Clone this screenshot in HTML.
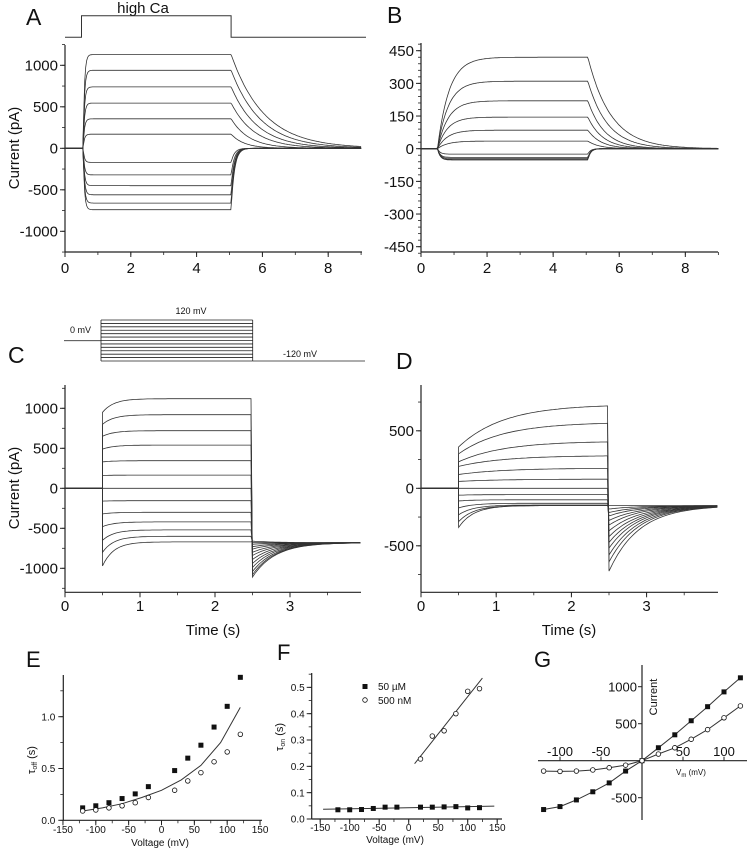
<!DOCTYPE html>
<html><head><meta charset="utf-8">
<style>
html,body{margin:0;padding:0;background:#fff;}
svg{display:block;font-family:"Liberation Sans",Arial,sans-serif;}
</style></head>
<body>
<svg id="fig" width="753" height="853" viewBox="0 0 753 853" xmlns="http://www.w3.org/2000/svg">
<rect width="753" height="853" fill="#fff"/>
<g fill="#111">
<text x="26" y="25" font-size="23">A</text>
<text x="387" y="23" font-size="23">B</text>
<text x="8" y="363" font-size="23">C</text>
<text x="396" y="369" font-size="23">D</text>
<text x="26" y="667" font-size="22">E</text>
<text x="277" y="660" font-size="22">F</text>
<text x="534" y="667" font-size="22">G</text>
<text x="143" y="13" font-size="15" text-anchor="middle">high Ca</text>
<text transform="translate(19,148) rotate(-90)" font-size="15" text-anchor="middle">Current (pA)</text>
<text transform="translate(19,488) rotate(-90)" font-size="15" text-anchor="middle">Current (pA)</text>
<text x="213" y="635" font-size="15" text-anchor="middle">Time (s)</text>
<text x="569" y="635" font-size="15" text-anchor="middle">Time (s)</text>
<text x="191" y="314" font-size="9" text-anchor="middle">120 mV</text>
<text x="70" y="333" font-size="9">0 mV</text>
<text x="283" y="357" font-size="9">-120 mV</text>
<text x="160" y="846" font-size="10" text-anchor="middle">Voltage (mV)</text>
<text x="395" y="843" font-size="10" text-anchor="middle">Voltage (mV)</text>
<text transform="translate(35,760) rotate(-90)" font-size="11" text-anchor="middle">τ<tspan font-size="7" dy="2">off</tspan><tspan dy="-2"> (s)</tspan></text>
<text transform="translate(283,737) rotate(-90)" font-size="11" text-anchor="middle">τ<tspan font-size="7" dy="2">on</tspan><tspan dy="-2"> (s)</tspan></text>
<text x="378" y="690" font-size="10">50 µM</text>
<text x="378" y="704" font-size="10">500 nM</text>
<text transform="translate(657,697) rotate(-90)" font-size="11" text-anchor="middle">Current</text>
<text x="676" y="775" font-size="8">V<tspan font-size="6" dy="2">m</tspan><tspan dy="-2"> (mV)</tspan></text>
</g>
<rect x="362.5" y="684" width="5" height="5" fill="#111"/>
<circle cx="365" cy="700" r="2.3" fill="#fff" stroke="#111" stroke-width="0.8"/>
</svg>
<script>
// ---------- DATA ----------
const aLevels = [1130, 940, 740, 545, 355, 170, -170, -320, -450, -560, -660, -740];
const aOffTau = [1.0, 0.9, 0.8, 0.7, 0.55, 0.4, 0.1, 0.1, 0.1, 0.1, 0.1, 0.1];
const bLevels = [420, 310, 220, 145, 85, 35, -25, -40, -45, -50, -50, -52];
const bOnTau = [0.35, 0.33, 0.32, 0.3, 0.3, 0.3, 0.08, 0.08, 0.08, 0.08, 0.08, 0.08];
const bOffTau = [0.7, 0.6, 0.5, 0.45, 0.4, 0.35, 0.08, 0.08, 0.08, 0.08, 0.08, 0.08];
const cInit = [950, 800, 650, 490, 330, 160, 0, -160, -320, -480, -650, -800, -970];
const cSteady = [1120, 920, 720, 540, 345, 165, 0, -155, -300, -420, -520, -600, -670];
const cTail = [-1110, -1080, -1040, -990, -940, -890, -840, -800, -760, -730, -700, -680, -660];
const cTailEnd = -680;
const dInit = [360, 300, 230, 190, 120, 60, 0, -60, -110, -170, -230, -290, -340];
const dSteady = [730, 575, 410, 285, 175, 80, 0, -55, -100, -130, -145, -150, -150];
const dTail = [-720, -640, -580, -520, -470, -420, -370, -320, -280, -240, -210, -180, -150];
const dTailEnd = -150;
const eVolt = [-120, -100, -80, -60, -40, -20, 20, 40, 60, 80, 100, 120];
const eSquares = [0.12, 0.14, 0.17, 0.21, 0.255, 0.325, 0.48, 0.6, 0.725, 0.9, 1.1, 1.38];
const eCircles = [0.09, 0.10, 0.12, 0.14, 0.17, 0.22, 0.29, 0.38, 0.46, 0.565, 0.66, 0.83];
const eFitV = [-120, -90, -60, -30, 0, 30, 60, 90, 120];
const eFitT = [0.09, 0.12, 0.16, 0.22, 0.29, 0.39, 0.53, 0.75, 1.09];
const fVoltSq = [-120, -100, -80, -60, -40, -20, 20, 40, 60, 80, 100, 120];
const fSquares = [0.035, 0.035, 0.036, 0.04, 0.045, 0.045, 0.045, 0.045, 0.046, 0.047, 0.042, 0.043];
const fVoltCi = [20, 40, 60, 80, 100, 120];
const fCircles = [0.228, 0.315, 0.335, 0.40, 0.485, 0.495];
const fFitSqV = [-145, 145], fFitSqT = [0.037, 0.049];
const fFitCiV = [10, 125], fFitCiT = [0.21, 0.535];
const gVolt = [-120, -100, -80, -60, -40, -20, 0, 20, 40, 60, 80, 100, 120];
const gSquares = [-660, -620, -530, -420, -300, -140, 0, 175, 350, 540, 730, 930, 1120];
const gCircles = [-140, -145, -140, -125, -95, -60, 0, 90, 175, 290, 420, 580, 740];
const aYTicks = [-1000, -500, 0, 500, 1000];
const bYTicks = [-450, -300, -150, 0, 150, 300, 450];
const abXTicks = [0, 2, 4, 6, 8];
const cYTicks = [-1000, -500, 0, 500, 1000];
const dYTicks = [-500, 0, 500];
const cdXTicks = [0, 1, 2, 3];
const efXTicks = [-150, -100, -50, 0, 50, 100, 150];
const eYTicks = [0, 0.5, 1.0];
const fYTicks = [0, 0.1, 0.2, 0.3, 0.4, 0.5];
const gXTicks = [-100, -50, 50, 100];
const gYTicks = [-500, 500, 1000];

// ---------- SCALES ----------
const xA = t => 65 + t * 32.9, yA = v => 148.3 - v * 0.083;
const xB = t => 421 + t * 33.04, yB = v => 148.7 - v * 98 / 450;
const xC = t => 65 + t * 75, yC = v => 488.3 - v * 0.08;
const xD = t => 421 + t * 75.2, yD = v => 488.3 - v * 0.115;
const xE = v => 161.5 + v * 0.657, yE = s => 820.3 - s * 103.6;
const xF = v => 408.7 + v * 0.59, yF = s => 819 - s * 263.3;
const xG = v => 642 + v * 0.82, yG = i => 760.7 - i * 0.074;

const NS = 'http://www.w3.org/2000/svg';
const svg = document.getElementById('fig');
function mk(tag, attrs) {
  const e = document.createElementNS(NS, tag);
  for (const k in attrs) e.setAttribute(k, attrs[k]);
  svg.appendChild(e);
  return e;
}
function ln(x1, y1, x2, y2, w) {
  return mk('line', {x1: x1, y1: y1, x2: x2, y2: y2, stroke: '#222', 'stroke-width': w || 1});
}
function tx(x, y, s, fs, anchor) {
  const e = mk('text', {x: x, y: y, 'font-size': fs, 'text-anchor': anchor || 'middle', fill: '#111'});
  e.textContent = s;
  return e;
}
function pl(pts, w) {
  return mk('polyline', {points: pts.map(p => p[0].toFixed(1) + ',' + p[1].toFixed(1)).join(' '), fill: 'none', stroke: '#333', 'stroke-width': w || 0.8});
}
function fmt(v, d) { return d ? v.toFixed(d) : String(v); }

function yAxis(xa, yTop, yBot, ticks, fy, minorStep, lo, hi, fs, gap, dec) {
  const a = ln(xa, yTop, xa, yBot, 1.2);
  
  
  for (const v of ticks) {
    const t = ln(xa - 5, fy(v), xa, fy(v), 1);
    
    
    const l = tx(xa - gap, fy(v) + fs * 0.36, fmt(v, dec), fs, 'end');
    
    
  }
  if (minorStep) for (let v = lo; v <= hi + 1e-9; v += minorStep) {
    const m = ln(xa - 3, fy(v), xa, fy(v), 0.8);
    
    
  }
}
function xAxis(ya, xL, xR, ticks, fx, minorStep, lo, hi, fs, base) {
  const a = ln(xL, ya, xR, ya, 1.2);
  
  
  for (const v of ticks) {
    const t = ln(fx(v), ya, fx(v), ya + 5, 1);
    
    
    const l = tx(fx(v), base, String(v), fs, 'middle');
    
    
  }
  if (minorStep) for (let v = lo; v <= hi + 1e-9; v += minorStep) {
    const m = ln(fx(v), ya, fx(v), ya + 3, 0.8);
    
    
  }
}

// ---------- PANEL A ----------
const stimA = pl([[xA(0), 37.3], [xA(0.5), 37.3], [xA(0.5), 15.7], [xA(5.05), 15.7], [xA(5.05), 37.3], [366, 37.3]], 1);


yAxis(65, 45, 252, aYTicks, yA, 250, -1250, 1250, 15, 7, 0);
xAxis(252, 65, 362, abXTicks, xA, 1, 0, 9, 15, 273);
aLevels.forEach((L, i) => {
  const pts = [];
  for (let t = 0; t <= 9.0001; t += 0.03) {
    let v;
    if (t < 0.55) v = 0;
    else if (t < 5.05) v = L * (1 - Math.exp(-(t - 0.55) / 0.04));
    else v = L * Math.exp(-(t - 5.05) / aOffTau[i]);
    pts.push([xA(t), yA(v)]);
  }
  const p = pl(pts);
  
  
});

// ---------- PANEL B ----------
yAxis(421, 43, 252, bYTicks, yB, 30, -480, 480, 15, 7, 0);
xAxis(252, 421, 718, abXTicks, xB, 1, 0, 9, 15, 273);
bLevels.forEach((L, i) => {
  const pts = [];
  for (let t = 0; t <= 9.0001; t += 0.03) {
    let v;
    if (t < 0.5) v = 0;
    else if (t < 5.05) v = L * (1 - Math.exp(-(t - 0.5) / bOnTau[i]));
    else v = L * (1 - Math.exp(-4.55 / bOnTau[i])) * Math.exp(-(t - 5.05) / bOffTau[i]);
    pts.push([xB(t), yB(v)]);
  }
  const p = pl(pts);
  
  
});

// ---------- STIMULUS C ----------
const s0 = pl([[64, 340.7], [101, 340.7]], 0.8);


for (let k = 0; k < 13; k++) {
  const y = 320 + k * (41 / 12);
  const s = ln(101, y, 252.7, y, 0.8);
  
  
}
const sv1 = ln(101, 320, 101, 361, 0.8);


const sv2 = ln(252.7, 320, 252.7, 361, 0.8);


const sTail = ln(252.7, 361, 365, 361, 0.8);



// ---------- PANEL C ----------
yAxis(65, 385, 592.3, cYTicks, yC, 250, -1250, 1250, 15, 7, 0);
xAxis(592.3, 65, 361, cdXTicks, xC, 0.5, 0, 3.5, 15, 611);
cInit.forEach((I, i) => {
  const pts = [[xC(0), yC(0)], [xC(0.5), yC(0)]];
  for (let t = 0.5; t <= 2.5001; t += 0.03) {
    const v = cSteady[i] + (I - cSteady[i]) * Math.exp(-(t - 0.5) / 0.15);
    pts.push([xC(t), yC(v)]);
  }
  for (let t = 2.5; t <= 3.95; t += 0.03) {
    const v = cTailEnd + (cTail[i] - cTailEnd) * Math.exp(-(t - 2.5) / 0.3);
    pts.push([xC(t), yC(v)]);
  }
  const p = pl(pts);
  
  
});

// ---------- PANEL D ----------
yAxis(421, 385, 592.3, dYTicks, yD, 250, -750, 750, 15, 7, 0);
xAxis(592.3, 421, 718, cdXTicks, xD, 0.5, 0, 3.5, 15, 611);
dInit.forEach((I, i) => {
  const pts = [[xD(0), yD(0)], [xD(0.5), yD(0)]];
  const tau = i < 7 ? 0.6 : 0.2;
  for (let t = 0.5; t <= 2.5001; t += 0.03) {
    const v = dSteady[i] + (I - dSteady[i]) * Math.exp(-(t - 0.5) / tau);
    pts.push([xD(t), yD(v)]);
  }
  for (let t = 2.5; t <= 3.95; t += 0.03) {
    const v = dTailEnd + (dTail[i] - dTailEnd) * Math.exp(-(t - 2.5) / 0.4);
    pts.push([xD(t), yD(v)]);
  }
  const p = pl(pts);
  
  
});

// ---------- PANEL E ----------
yAxis(63.3, 675, 820.3, eYTicks, yE, 0.25, 0, 1.25, 10, 8, 1);
xAxis(820.3, 63.3, 262, efXTicks, xE, 25, -150, 150, 10, 833);
const eFit = pl(eFitV.map((v, k) => [xE(v), yE(eFitT[k])]), 1);


eVolt.forEach((v, k) => {
  const s = mk('rect', {x: xE(v) - 2.5, y: yE(eSquares[k]) - 2.5, width: 5, height: 5, fill: '#111'});
  
  
  const c = mk('circle', {cx: xE(v), cy: yE(eCircles[k]), r: 2.3, fill: '#fff', stroke: '#111', 'stroke-width': 0.8});
  
  
});

// ---------- PANEL F ----------
yAxis(311.7, 673, 819, fYTicks, yF, 0.05, 0, 0.55, 10, 7, 1);
xAxis(819, 311.7, 502, efXTicks, xF, 25, -150, 150, 10, 831);
const fl1 = pl(fFitSqV.map((v, k) => [xF(v), yF(fFitSqT[k])]), 1);


const fl2 = pl(fFitCiV.map((v, k) => [xF(v), yF(fFitCiT[k])]), 1);


fVoltSq.forEach((v, k) => {
  const s = mk('rect', {x: xF(v) - 2.5, y: yF(fSquares[k]) - 2.5, width: 5, height: 5, fill: '#111'});
  
  
});
fVoltCi.forEach((v, k) => {
  const c = mk('circle', {cx: xF(v), cy: yF(fCircles[k]), r: 2.3, fill: '#fff', stroke: '#111', 'stroke-width': 0.8});
  
  
});

// ---------- PANEL G ----------
const gx = ln(538, yG(0), 747, yG(0), 1.2);


const gy = ln(xG(0), 665, xG(0), 820, 1.2);


gXTicks.forEach(v => {
  const t = ln(xG(v), yG(0) - 4, xG(v), yG(0), 1);
  
  
  const l = tx(xG(v), 756, String(v), 13, 'middle');
  
  
});
gYTicks.forEach(v => {
  const t = ln(xG(0) - 4, yG(v), xG(0), yG(v), 1);
  
  
  const l = tx(637, yG(v) + 5, String(v), 13, 'end');
  
  
});
const gl1 = pl(gVolt.map((v, k) => [xG(v), yG(gSquares[k])]), 1);


const gl2 = pl(gVolt.map((v, k) => [xG(v), yG(gCircles[k])]), 1);


gVolt.forEach((v, k) => {
  const s = mk('rect', {x: xG(v) - 2.5, y: yG(gSquares[k]) - 2.5, width: 5, height: 5, fill: '#111'});
  
  
  const c = mk('circle', {cx: xG(v), cy: yG(gCircles[k]), r: 2.3, fill: '#fff', stroke: '#111', 'stroke-width': 0.8});
  
  
});
</script>
</body></html>
